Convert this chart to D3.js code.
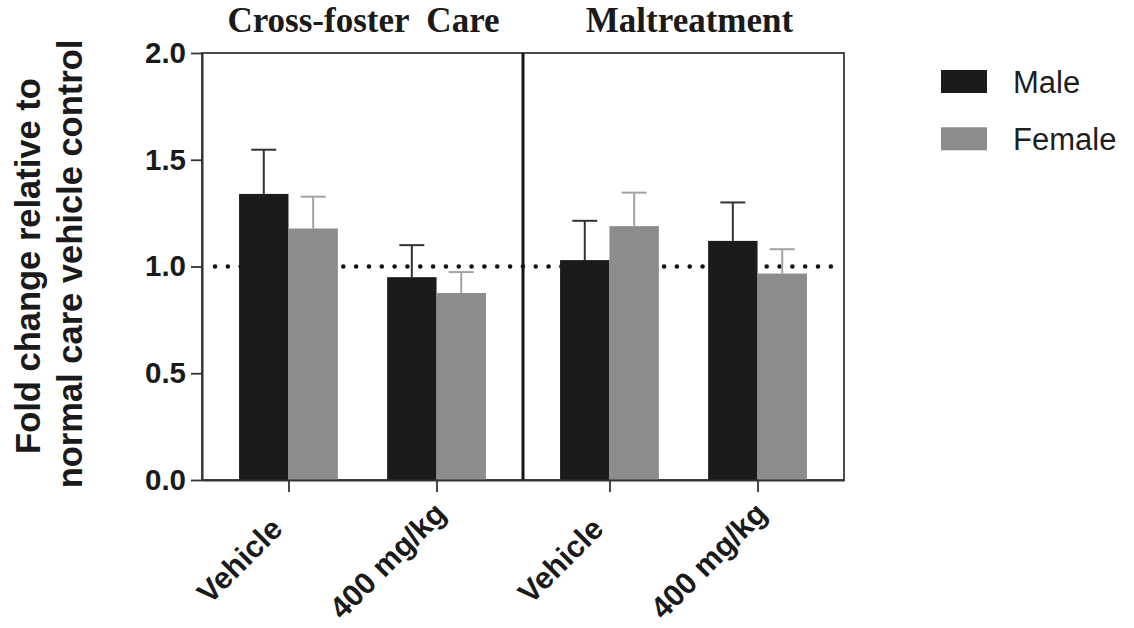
<!DOCTYPE html>
<html>
<head>
<meta charset="utf-8">
<script src="https://cdn.jsdelivr.net/npm/d3@7"></script>
<style>
  body { margin: 0; background: #fff; }
  svg { display: block; }
</style>
</head>
<body>
<svg id="chart" width="1134" height="628"></svg>
<script>
// data
const panels = ["Cross-foster  Care", "Maltreatment"];
const doses = ["Vehicle", "400 mg/kg"];
const sexes = ["Male", "Female"];
const maleMean = [1.34, 0.95, 1.03, 1.12];
const maleSem = [0.207, 0.15, 0.184, 0.18];
const femaleMean = [1.178, 0.876, 1.189, 0.967];
const femaleSem = [0.149, 0.098, 0.157, 0.114];
const yTicks = [0, 0.5, 1.0, 1.5, 2.0];
const refValue = 1.0;

const colors = { Male: "#1b1b1b", Female: "#8c8c8c" };
const errColors = { Male: "#333", Female: "#a3a3a3" };
const sansFont = "Arial, 'Liberation Sans', Helvetica, sans-serif";
const serifFont = "'Times New Roman', 'Liberation Serif', serif";

const svg = d3.select("svg#chart"),
      margin = { top: 53, right: 290, bottom: 148, left: 202 },
      width = +svg.attr("width") - margin.left - margin.right,
      height = +svg.attr("height") - margin.top - margin.bottom;

const g = svg.append("g").attr("transform", `translate(${margin.left},${margin.top})`);

// SCALES
const y = d3.scaleLinear().domain([0, 2]).range([height, 0]);
const panelScale = d3.scaleBand().domain(panels).range([0, width]);
const doseScale = d3.scalePoint().domain(doses).range([0, panelScale.bandwidth()]).padding(0.584);
const sexScale = d3.scaleBand().domain(sexes).range([-49.4, 49.4]);

// flatten data
const rows = [];
panels.forEach((p, pi) => {
  doses.forEach((d, di) => {
    const i = pi * doses.length + di;
    rows.push({ panel: p, dose: d, sex: "Male", mean: maleMean[i], sem: maleSem[i] });
    rows.push({ panel: p, dose: d, sex: "Female", mean: femaleMean[i], sem: femaleSem[i] });
  });
});
const cx = (d) => panelScale(d.panel) + doseScale(d.dose);

// frame
g.append("rect")
  .attr("x", 0).attr("y", 0)
  .attr("width", width).attr("height", height)
  .attr("fill", "none")
  .attr("stroke", "#3a3a3a")
  .attr("stroke-width", 1.8);

// dotted reference line at 1.0
g.append("line")
  .attr("x1", 13).attr("x2", width - 6)
  .attr("y1", y(refValue)).attr("y2", y(refValue))
  .attr("stroke", "#111")
  .attr("stroke-width", 4.6)
  .attr("stroke-linecap", "round")
  .attr("stroke-dasharray", "0 12.83");

// BARS
g.selectAll(".bar")
  .data(rows)
  .enter()
    .append("rect")
    .attr("class", "bar")
    .attr("x", (d) => cx(d) + sexScale(d.sex))
    .attr("y", (d) => y(d.mean))
    .attr("width", sexScale.bandwidth())
    .attr("height", (d) => height - y(d.mean))
    .attr("fill", (d) => colors[d.sex]);

// error bars (upper only)
const err = g.selectAll(".err")
  .data(rows)
  .enter()
    .append("g")
    .attr("class", "err")
    .attr("stroke", (d) => errColors[d.sex])
    .attr("stroke-width", 2);

err.append("line")
  .attr("x1", (d) => cx(d) + sexScale(d.sex) + sexScale.bandwidth() / 2)
  .attr("x2", (d) => cx(d) + sexScale(d.sex) + sexScale.bandwidth() / 2)
  .attr("y1", (d) => y(d.mean))
  .attr("y2", (d) => y(d.mean + d.sem));

err.append("line")
  .attr("x1", (d) => cx(d) + sexScale(d.sex) + sexScale.bandwidth() / 2 - 12.5)
  .attr("x2", (d) => cx(d) + sexScale(d.sex) + sexScale.bandwidth() / 2 + 12.5)
  .attr("y1", (d) => y(d.mean + d.sem))
  .attr("y2", (d) => y(d.mean + d.sem));

// panel divider
g.append("line")
  .attr("x1", panelScale(panels[1])).attr("x2", panelScale(panels[1]))
  .attr("y1", 0).attr("y2", height)
  .attr("stroke", "#151515")
  .attr("stroke-width", 3);

// AXIS
const yAxis = g.append("g")
  .call(d3.axisLeft(y).tickValues(yTicks).tickFormat(d3.format(".1f")).tickSize(11).tickSizeOuter(0).tickPadding(5));
yAxis.select(".domain").attr("stroke", "#333").attr("stroke-width", 2);
yAxis.selectAll(".tick line").attr("stroke", "#333").attr("stroke-width", 1.8);
yAxis.selectAll(".tick text")
  .attr("fill", "#1a1a1a")
  .style("font-family", sansFont)
  .style("font-size", "29.5px")
  .style("font-weight", "bold");

panels.forEach((p) => {
  const xAxis = g.append("g")
    .attr("transform", `translate(${panelScale(p)},${height})`)
    .call(d3.axisBottom(doseScale).tickSize(12).tickSizeOuter(0));
  xAxis.select(".domain").attr("stroke", "#333").attr("stroke-width", 2);
  xAxis.selectAll(".tick line").attr("stroke", "#333").attr("stroke-width", 1.8);
  xAxis.selectAll(".tick text")
    .attr("x", 0).attr("y", 0).attr("dy", 0)
    .attr("text-anchor", "middle")
    .attr("transform", "translate(-42,88) rotate(-45)")
    .attr("fill", "#1a1a1a")
    .style("font-family", sansFont)
    .style("font-size", "30.5px")
    .style("font-weight", "bold");

  // panel title
  g.append("text")
    .attr("x", panelScale(p) + panelScale.bandwidth() / 2 + (p === panels[1] ? 6 : 1))
    .attr("y", -21)
    .attr("text-anchor", "middle")
    .attr("fill", "#1a1a1a")
    .style("font-family", serifFont)
    .style("font-size", "35px")
    .style("font-weight", "bold")
    .style("white-space", "pre")
    .text(p);
});

// y title
const yTitle = svg.append("text")
  .attr("transform", "rotate(-90)")
  .attr("text-anchor", "middle")
  .attr("fill", "#1a1a1a")
  .style("font-family", sansFont)
  .style("font-size", "34.5px")
  .style("font-weight", "bold");
yTitle.append("tspan").attr("x", -266).attr("y", 40).text("Fold change relative to");
yTitle.append("tspan").attr("x", -264).attr("y", 82).text("normal care vehicle control");

// legend
const legend = svg.append("g")
  .attr("transform", "translate(941,70)")
  .selectAll("g")
  .data(sexes)
  .enter()
    .append("g")
    .attr("transform", (d, i) => `translate(0,${i * 57.3})`);

legend.append("rect")
  .attr("width", 46).attr("height", 23)
  .attr("fill", (d) => colors[d]);

legend.append("text")
  .attr("x", 72).attr("y", 23)
  .attr("fill", "#1e1e1e")
  .style("font-family", sansFont)
  .style("font-size", "31px")
  .text((d) => d);
</script>
</body>
</html>
